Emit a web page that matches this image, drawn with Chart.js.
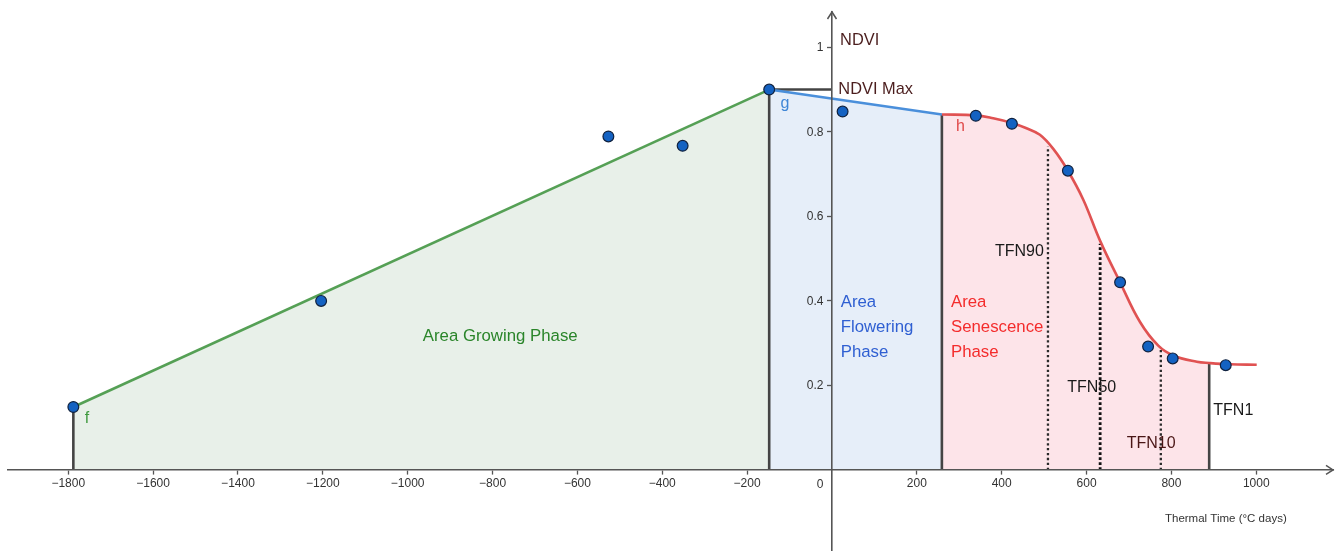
<!DOCTYPE html>
<html>
<head>
<meta charset="utf-8">
<script src="https://cdn.jsdelivr.net/npm/chart.js@4/dist/chart.umd.min.js"></script>
<style>
  html, body { margin: 0; padding: 0; background: #ffffff; overflow: hidden; }
  canvas { display: block; }
</style>
</head>
<body>
<canvas id="c" width="1339" height="551" style="width:1339px;height:551px"></canvas>
<script>
// Observed NDVI readings against thermal time (°C days, 0 = flowering)
const observedTT   = [-1788, -1204, -527, -352, -148, 25, 339, 424, 556, 679, 745, 803, 928];
const observedNDVI = [0.149, 0.400, 0.789, 0.767, 0.900, 0.848, 0.838, 0.819, 0.708, 0.444, 0.292, 0.264, 0.248];

// Growing phase (f): linear rise up to NDVI max
const growTT   = [-1788, -148];
const growNDVI = [0.149, 0.900];

// Flowering phase (g): slow decline from NDVI max
const flowerTT   = [-148, 259];
const flowerNDVI = [0.900, 0.841];

// Senescence phase (h): fitted sigmoid decline
const senTT   = [259, 339, 380, 424, 457, 490, 522, 556, 592, 632, 679, 726, 769, 804, 860, 889, 938, 1001];
const senNDVI = [0.841, 0.839, 0.832, 0.821, 0.809, 0.793, 0.759, 0.708, 0.640, 0.542, 0.444, 0.350, 0.294, 0.271, 0.256, 0.253, 0.250, 0.249];

// Senescence thresholds
const tfnNames = ['TFN90', 'TFN50', 'TFN10', 'TFN1'];
const tfnTT    = [509, 632, 775, 889];
const tfnNDVI  = [0.766, 0.535, 0.286, 0.253];

const ndviMax = 0.900;

// Axis ticks
const xTicks = [-1800, -1600, -1400, -1200, -1000, -800, -600, -400, -200, 200, 400, 600, 800, 1000];
const yTicks = [0.2, 0.4, 0.6, 0.8, 1];

const pts = (xs, ys) => xs.map((x, i) => ({ x: x, y: ys[i] }));
const vline = (x, top) => [{ x: x, y: 0 }, { x: x, y: top }];

const FONT = '"Liberation Sans", Arial, sans-serif';
const EDGE = '#444444';
const AXIS = '#555555';
const TICK_TEXT = '#333333';

const tfnEnd = senTT.indexOf(tfnTT[3]);
const senFillPts = pts(senTT.slice(0, tfnEnd + 1), senNDVI.slice(0, tfnEnd + 1));

const datasets = [
  // observed points (top layer)
  { data: pts(observedTT, observedNDVI), showLine: false, order: 0,
    pointRadius: 5.4, pointBackgroundColor: '#1462c2', pointBorderColor: '#10223f', pointBorderWidth: 1.2 },
  // model lines
  { data: pts(growTT, growNDVI), order: 1, borderColor: '#55a055', borderWidth: 2.6, pointRadius: 0, fill: false },
  { data: pts(flowerTT, flowerNDVI), order: 1, borderColor: '#4a8fdb', borderWidth: 2.6, pointRadius: 0, fill: false },
  { data: pts(senTT, senNDVI), order: 1, borderColor: '#e05252', borderWidth: 2.6, pointRadius: 0, fill: false,
    tension: 0.4 },
  // NDVI max marker
  { data: [{ x: growTT[1], y: ndviMax }, { x: 0, y: ndviMax }], order: 2, borderColor: EDGE, borderWidth: 2.6, pointRadius: 0, fill: false },
  // phase boundaries
  { data: vline(growTT[0], growNDVI[0]), order: 2, borderColor: EDGE, borderWidth: 2.6, pointRadius: 0, fill: false },
  { data: vline(flowerTT[0], flowerNDVI[0]), order: 2, borderColor: EDGE, borderWidth: 2.6, pointRadius: 0, fill: false },
  { data: vline(flowerTT[1], flowerNDVI[1]), order: 2, borderColor: EDGE, borderWidth: 2.6, pointRadius: 0, fill: false },
  { data: vline(tfnTT[3], tfnNDVI[3]), order: 2, borderColor: EDGE, borderWidth: 2.6, pointRadius: 0, fill: false },
  // threshold markers (dotted)
  { data: vline(tfnTT[0], tfnNDVI[0]), order: 2, borderColor: '#2a2a2a', borderWidth: 2.3, borderDash: [2.3, 2.6], pointRadius: 0, fill: false },
  { data: vline(tfnTT[1], tfnNDVI[1]), order: 2, borderColor: '#111111', borderWidth: 2.8, borderDash: [2.6, 2.4], pointRadius: 0, fill: false },
  { data: vline(tfnTT[2], tfnNDVI[2]), order: 2, borderColor: '#2a2a2a', borderWidth: 2.3, borderDash: [2.3, 2.6], pointRadius: 0, fill: false },
  // phase areas
  { data: pts(growTT, growNDVI), order: 3, borderWidth: 0, pointRadius: 0, fill: 'origin', backgroundColor: '#e8f0e9' },
  { data: pts(flowerTT, flowerNDVI), order: 3, borderWidth: 0, pointRadius: 0, fill: 'origin', backgroundColor: '#e6eef9' },
  { data: senFillPts, order: 3, borderWidth: 0, pointRadius: 0, fill: 'origin', backgroundColor: '#fde4e9',
    tension: 0.4 }
];

// Text placed in data coordinates
const notes = [
  { t: 'NDVI', x: 19, y: 1.0055, c: '#4b1e1e', s: 16.4, a: 'left' },
  { t: 'NDVI Max', x: 15, y: 0.889, c: '#4b1e1e', s: 16.4, a: 'left' },
  { t: 'g', x: -111, y: 0.8557, c: '#3f86d6', s: 16, a: 'center' },
  { t: 'h', x: 303, y: 0.802, c: '#e04848', s: 16, a: 'center' },
  { t: 'f', x: -1756, y: 0.1105, c: '#3f9a3f', s: 16, a: 'center' },
  { t: 'Area Growing Phase', x: -782, y: 0.305, c: '#2a852a', s: 16.8, a: 'center' },
  { t: 'Area', x: 20.5, y: 0.3863, c: '#2f5fd2', s: 16.8, a: 'left' },
  { t: 'Flowering', x: 20.5, y: 0.3272, c: '#2f5fd2', s: 16.8, a: 'left' },
  { t: 'Phase', x: 20.5, y: 0.268, c: '#2f5fd2', s: 16.8, a: 'left' },
  { t: 'Area', x: 280.5, y: 0.3856, c: '#f42c2c', s: 16.8, a: 'left' },
  { t: 'Senescence', x: 280.5, y: 0.3265, c: '#f42c2c', s: 16.8, a: 'left' },
  { t: 'Phase', x: 280.5, y: 0.2673, c: '#f42c2c', s: 16.8, a: 'left' },
  { t: tfnNames[0], x: 384, y: 0.5063, c: '#1a1a1a', s: 16, a: 'left' },
  { t: tfnNames[1], x: 554.6, y: 0.1838, c: '#1a1a1a', s: 16, a: 'left' },
  { t: tfnNames[2], x: 694.6, y: 0.0513, c: '#4a1616', s: 16, a: 'left' },
  { t: tfnNames[3], x: 898.7, y: 0.130, c: '#1a1a1a', s: 16, a: 'left' },
  { t: 'Thermal Time (°C days)', x: 784.8, y: -0.1223, c: '#333333', s: 11.5, a: 'left' },
  { t: '0', x: -28.3, y: -0.0425, c: TICK_TEXT, s: 12, a: 'center' }
];

const fmtX = v => (v < 0 ? '\u2212' + Math.abs(v) : String(v));
const fmtY = v => (v === 1 ? '1' : v.toFixed(1));

const overlay = {
  id: 'overlay',
  afterDraw(chart) {
    const { ctx, scales: { x, y }, chartArea } = chart;
    const x0 = x.getPixelForValue(0), y0 = y.getPixelForValue(0);
    ctx.save();
    // axis arrow heads
    ctx.strokeStyle = AXIS;
    ctx.lineWidth = 1.5;
    ctx.beginPath();
    ctx.moveTo(chartArea.right - 7, y0 - 4.5);
    ctx.lineTo(chartArea.right, y0);
    ctx.lineTo(chartArea.right - 7, y0 + 4.5);
    ctx.moveTo(x0 - 4.5, chartArea.top + 7);
    ctx.lineTo(x0, chartArea.top);
    ctx.lineTo(x0 + 4.5, chartArea.top + 7);
    ctx.stroke();
    // y tick labels, left of the vertical axis
    ctx.font = '12px ' + FONT;
    ctx.fillStyle = TICK_TEXT;
    ctx.textAlign = 'right';
    ctx.textBaseline = 'middle';
    yTicks.forEach(v => ctx.fillText(fmtY(v), x0 - 8.5, y.getPixelForValue(v) + 0.5));
    // annotations
    ctx.textBaseline = 'alphabetic';
    notes.forEach(n => {
      ctx.font = n.s + 'px ' + FONT;
      ctx.fillStyle = n.c;
      ctx.textAlign = n.a;
      ctx.fillText(n.t, x.getPixelForValue(n.x), y.getPixelForValue(n.y));
    });
    ctx.restore();
  }
};

new Chart(document.getElementById('c'), {
  type: 'line',
  data: { datasets },
  options: {
    responsive: false,
    maintainAspectRatio: false,
    animation: false,
    events: [],
    layout: { autoPadding: false, padding: { left: 8, right: 6, top: 12, bottom: 0 } },
    plugins: { legend: { display: false }, tooltip: { enabled: false } },
    scales: {
      x: {
        type: 'linear', min: -1942, max: 1180.8, position: { y: 0 },
        afterBuildTicks: s => { s.ticks = xTicks.map(v => ({ value: v })); },
        ticks: { callback: fmtX, color: TICK_TEXT, font: { family: FONT, size: 12 }, padding: 3, maxRotation: 0, autoSkip: false, z: 2 },
        grid: { drawOnChartArea: false, drawTicks: true, tickLength: 4, tickColor: AXIS, tickWidth: 1.3, z: 2 },
        border: { color: AXIS, width: 1.6, z: 2 }
      },
      y: {
        type: 'linear', min: -0.1917, max: 1.0835, position: { x: 0 },
        afterBuildTicks: s => { s.ticks = yTicks.map(v => ({ value: v })); },
        ticks: { display: false },
        grid: { drawOnChartArea: false, drawTicks: true, tickLength: 4, tickColor: AXIS, tickWidth: 1.3, z: 2 },
        border: { color: AXIS, width: 1.6, z: 2 }
      }
    }
  },
  plugins: [overlay]
});
</script>
</body>
</html>
